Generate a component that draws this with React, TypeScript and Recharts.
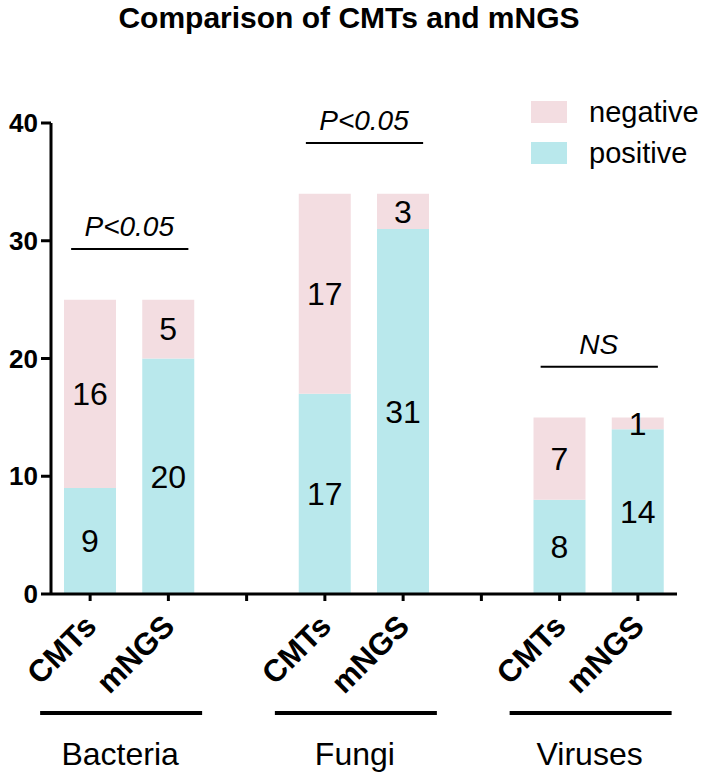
import React from 'react';
import { BarChart, Bar, XAxis, YAxis, LabelList, Legend, ReferenceLine } from 'recharts';

const groups = ['Bacteria', 'Fungi', 'Viruses'];
const methods = ['CMTs', 'mNGS'];
// per group: CMTs, mNGS
const positive = [9, 20, 17, 31, 8, 14];
const negative = [16, 5, 17, 3, 7, 1];
const pLabels = ['P<0.05', 'P<0.05', 'NS'];
const yTicks = [0, 10, 20, 30, 40];

const POS_COLOR = '#b9e8ec';
const NEG_COLOR = '#f3dde1';

type Row = { key: string; group: string; method: string; positive: number | null; negative: number | null };

const rows: Row[] = [];
groups.forEach((g, gi) => {
    methods.forEach((m, mi) => {
        const i = gi * methods.length + mi;
        rows.push({ key: `${g}-${m}`, group: g, method: m, positive: positive[i], negative: negative[i] });
    });
    if (gi < groups.length - 1) {
        rows.push({ key: `gap-${g}`, group: g, method: '', positive: null, negative: null });
    }
});

const MethodTick = ({ x, y, payload }: any) => {
    const row = rows.find(r => r.key === payload.value);
    if (!row || !row.method) return null;
    const first = row.method === methods[0];
    const tx = x + 8;
    const ty = y + 25;
    return (
        <g>
            <text
                x={tx}
                y={ty}
                transform={`rotate(-45, ${tx}, ${ty})`}
                textAnchor="end"
                fontSize={31}
                fontWeight="bold"
                fill="#000"
            >
                {row.method}
            </text>
            {first && (
                <>
                    <line x1={x - 50} x2={x + 112} y1={y + 110} y2={y + 110} stroke="#000" strokeWidth={4} />
                    <text x={x + 30} y={y + 162} textAnchor="middle" fontSize={32} fill="#000">
                        {row.group}
                    </text>
                </>
            )}
        </g>
    );
};

// significance bar, a bit wider than the two bar centres
const SigLine = ({ x1, x2, y1 }: any) => (
    <line x1={x1 - 19} x2={x2 + 20} y1={y1} y2={y1} stroke="#000" strokeWidth={2} />
);

const LegendBox = ({ payload }: any) => {
    const items = payload || [];
    return (
        <div>
            {items.map((it: any) => (
                <div key={it.value} style={{ display: 'flex', alignItems: 'center', height: 22, marginBottom: 19 }}>
                    <div style={{ width: 36, height: 22, background: it.color }} />
                    <span style={{ marginLeft: 22, fontSize: 29, lineHeight: '22px', color: '#000' }}>{it.value}</span>
                </div>
            ))}
        </div>
    );
};

const App: React.FC = () => {
    return (
        <div
            style={{
                position: 'absolute',
                left: 0,
                top: 0,
                width: 708,
                height: 776,
                background: '#fff',
                fontFamily: '"Liberation Sans", Arial, sans-serif',
            }}
        >
            <div
                style={{
                    position: 'absolute',
                    top: 3,
                    left: 0,
                    width: 698,
                    textAlign: 'center',
                    fontSize: 30,
                    lineHeight: '30px',
                    fontWeight: 'bold',
                    color: '#000',
                }}
            >
                Comparison of CMTs and mNGS
            </div>
            <BarChart width={708} height={776} data={rows} margin={{ top: 123, right: 31, left: 0, bottom: 0 }}>
                <XAxis
                    dataKey="key"
                    interval={0}
                    height={182}
                    tickSize={7}
                    tickMargin={2}
                    axisLine={{ stroke: '#000', strokeWidth: 3 }}
                    tickLine={{ stroke: '#000', strokeWidth: 3 }}
                    tick={<MethodTick />}
                />
                <YAxis
                    width={51}
                    domain={[0, 40]}
                    ticks={yTicks}
                    tickSize={10}
                    tickMargin={3}
                    axisLine={{ stroke: '#000', strokeWidth: 3 }}
                    tickLine={{ stroke: '#000', strokeWidth: 3 }}
                    tick={{ fontSize: 26, fontWeight: 'bold', fill: '#000' }}
                />
                <Legend
                    layout="vertical"
                    align="center"
                    verticalAlign="middle"
                    content={<LegendBox />}
                    wrapperStyle={{ top: 101, left: 531, width: 177 }}
                />
                <Bar dataKey="positive" name="positive" stackId="s" fill={POS_COLOR} barSize={52} isAnimationActive={false}>
                    <LabelList dataKey="positive" position="center" fontSize={32} fill="#000" />
                </Bar>
                <Bar dataKey="negative" name="negative" stackId="s" fill={NEG_COLOR} barSize={52} isAnimationActive={false}>
                    <LabelList dataKey="negative" position="center" fontSize={32} fill="#000" />
                </Bar>
                {groups.map((g, gi) => {
                    const idx = methods.map((_, k) => gi * methods.length + k);
                    const top = Math.max(...idx.map(i => positive[i] + negative[i])) + 4.3;
                    return (
                        <ReferenceLine
                            key={g}
                            segment={[
                                { x: `${g}-${methods[0]}`, y: top },
                                { x: `${g}-${methods[1]}`, y: top },
                            ]}
                            ifOverflow="visible"
                            shape={<SigLine />}
                            label={{ value: pLabels[gi], position: 'top', offset: 13, fontSize: 28, fontStyle: 'italic', fill: '#000' }}
                        />
                    );
                })}
            </BarChart>
        </div>
    );
};

export default App;
